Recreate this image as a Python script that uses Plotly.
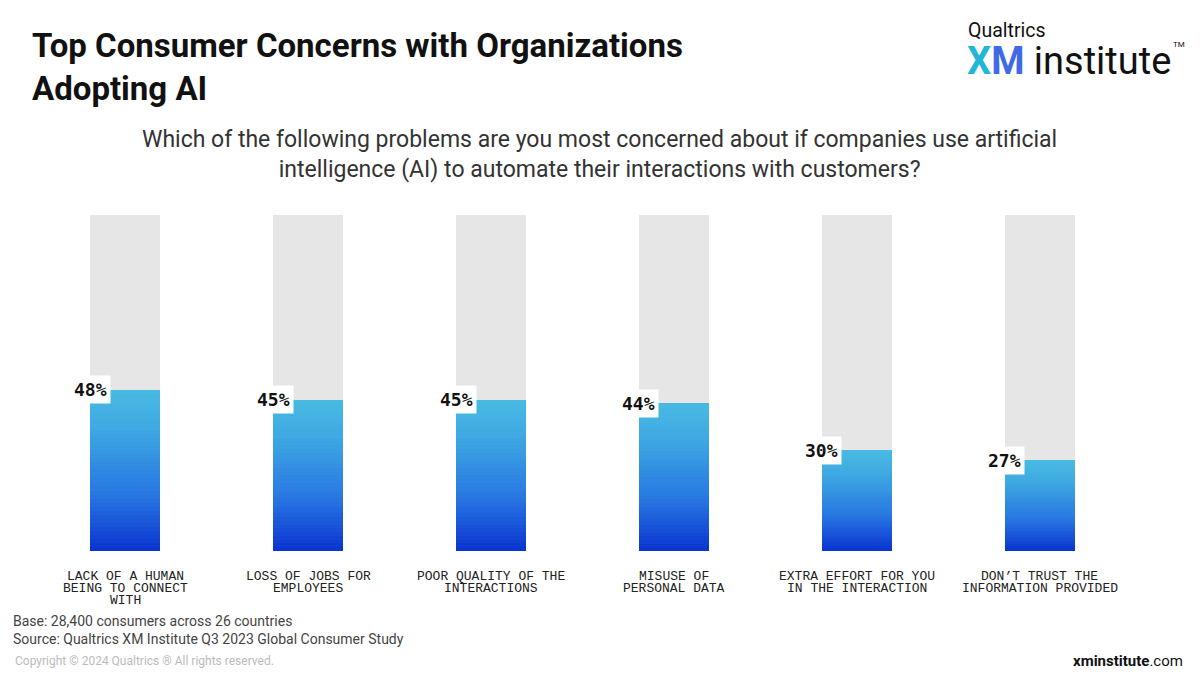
import plotly.graph_objects as go

# ---------------- data ----------------
categories = [
    "LACK OF A HUMAN<br>BEING TO CONNECT<br>WITH",
    "LOSS OF JOBS FOR<br>EMPLOYEES",
    "POOR QUALITY OF THE<br>INTERACTIONS",
    "MISUSE OF<br>PERSONAL DATA",
    "EXTRA EFFORT FOR YOU<br>IN THE INTERACTION",
    "DON\u2019T TRUST THE<br>INFORMATION PROVIDED",
]
values = [48, 45, 45, 44, 30, 27]
background = [100, 100, 100, 100, 100, 100]
value_labels = ["48%", "45%", "45%", "44%", "30%", "27%"]

# ---------------- layout geometry ----------------
W, H = 1200, 675
ML, MR, MT, MB = 34, 69, 215, 124
PW, PH = W - ML - MR, H - MT - MB


def px(x):
    return (x - ML) / PW


def py(y):
    return (H - MB - y) / PH


N_SEG = 40
BAR_W = 0.383
stops = [(0.0, (10, 52, 208)), (0.35, (40, 118, 226)), (0.75, (62, 168, 226)), (1.0, (72, 186, 226))]


def grad(t):
    for (t0, c0), (t1, c1) in zip(stops[:-1], stops[1:]):
        if t <= t1:
            f = (t - t0) / (t1 - t0) if t1 > t0 else 0
            return "rgb(%d,%d,%d)" % tuple(round(a + (b - a) * f) for a, b in zip(c0, c1))
    return "rgb(%d,%d,%d)" % stops[-1][1]


xpos = list(range(len(categories)))

fig = go.Figure()
fig.add_trace(go.Bar(
    x=xpos, y=background, base=[0] * len(xpos), width=BAR_W,
    marker=dict(color="#e6e6e6", line=dict(width=0)),
    hoverinfo="skip", showlegend=False,
))
for k in range(N_SEG):
    fig.add_trace(go.Bar(
        x=xpos,
        y=[v / N_SEG * 1.02 for v in values],
        base=[v * k / N_SEG for v in values],
        width=BAR_W,
        marker=dict(color=grad((k + 0.5) / N_SEG), line=dict(width=0)),
        hoverinfo="skip", showlegend=False,
    ))

annotations = []
for i, (v, lab) in enumerate(zip(values, value_labels)):
    annotations.append(dict(
        x=i - BAR_W / 2, y=v, xref="x", yref="y",
        text="<b>%s</b>" % lab, showarrow=False,
        xanchor="center", yanchor="middle",
        bgcolor="white", borderpad=3,
        font=dict(family="DejaVu Sans Mono", size=18, color="#111"),
    ))

# category labels, one annotation per line for tight line spacing
for i, cat in enumerate(categories):
    for j, line in enumerate(cat.split("<br>")):
        annotations.append(dict(
            x=i, y=0, xref="x", yref="y", text=line, showarrow=False,
            xanchor="center", yanchor="middle", yshift=-(25 + 12 * j),
            font=dict(family="Liberation Mono", size=13, color="#222"),
        ))

annotations += [
    dict(xref="paper", yref="paper", x=px(30), y=py(24),
         xanchor="left", yanchor="top", showarrow=False, align="left",
         text="<b>Top Consumer Concerns with Organizations<br>Adopting AI</b>",
         font=dict(family="Roboto", size=33, color="#111")),
    dict(xref="paper", yref="paper", x=px(599), y=py(124),
         xanchor="center", yanchor="top", showarrow=False,
         text="Which of the following problems are you most concerned about if companies use artificial<br>intelligence (AI) to automate their interactions with customers?",
         font=dict(family="Roboto", size=23, color="#333")),
    dict(xref="paper", yref="paper", x=px(11), y=py(611),
         xanchor="left", yanchor="top", showarrow=False, align="left",
         text="Base: 28,400 consumers across 26 countries<br>Source: Qualtrics XM Institute Q3 2023 Global Consumer Study",
         font=dict(family="Roboto", size=14, color="#444")),
    dict(xref="paper", yref="paper", x=px(13), y=py(652),
         xanchor="left", yanchor="top", showarrow=False,
         text="Copyright \u00a9 2024 Qualtrics \u00ae All rights reserved.",
         font=dict(family="Roboto", size=12, color="#bbbbbb")),
    dict(xref="paper", yref="paper", x=px(1185), y=py(650),
         xanchor="right", yanchor="top", showarrow=False,
         text="<b>xminstitute</b>.com",
         font=dict(family="Roboto", size=15, color="#111")),
    dict(xref="paper", yref="paper", x=px(966), y=py(17),
         xanchor="left", yanchor="top", showarrow=False,
         text="Qualtrics",
         font=dict(family="Roboto", size=19.5, color="#111")),
    dict(xref="paper", yref="paper", x=px(965), y=py(37),
         xanchor="left", yanchor="top", showarrow=False,
         text="<b><span style='color:#22b6d6'>X</span><span style='color:#3f6ae6'>M</span></b> institute",
         font=dict(family="Roboto", size=38, color="#111")),
    dict(xref="paper", yref="paper", x=px(1171), y=py(38),
         xanchor="left", yanchor="top", showarrow=False,
         text="TM", font=dict(family="Roboto", size=8, color="#111")),
]

fig.update_layout(
    width=W, height=H,
    paper_bgcolor="white", plot_bgcolor="white",
    barmode="overlay", bargap=0,
    margin=dict(l=ML, r=MR, t=MT, b=MB),
    xaxis=dict(
        range=[-0.5, len(categories) - 0.5],
        showticklabels=False,
        showgrid=False, zeroline=False, showline=False, ticks="",
        fixedrange=True,
    ),
    yaxis=dict(range=[0, 100], visible=False, fixedrange=True),
    annotations=annotations,
    showlegend=False,
)

fig.write_html("out.html")
